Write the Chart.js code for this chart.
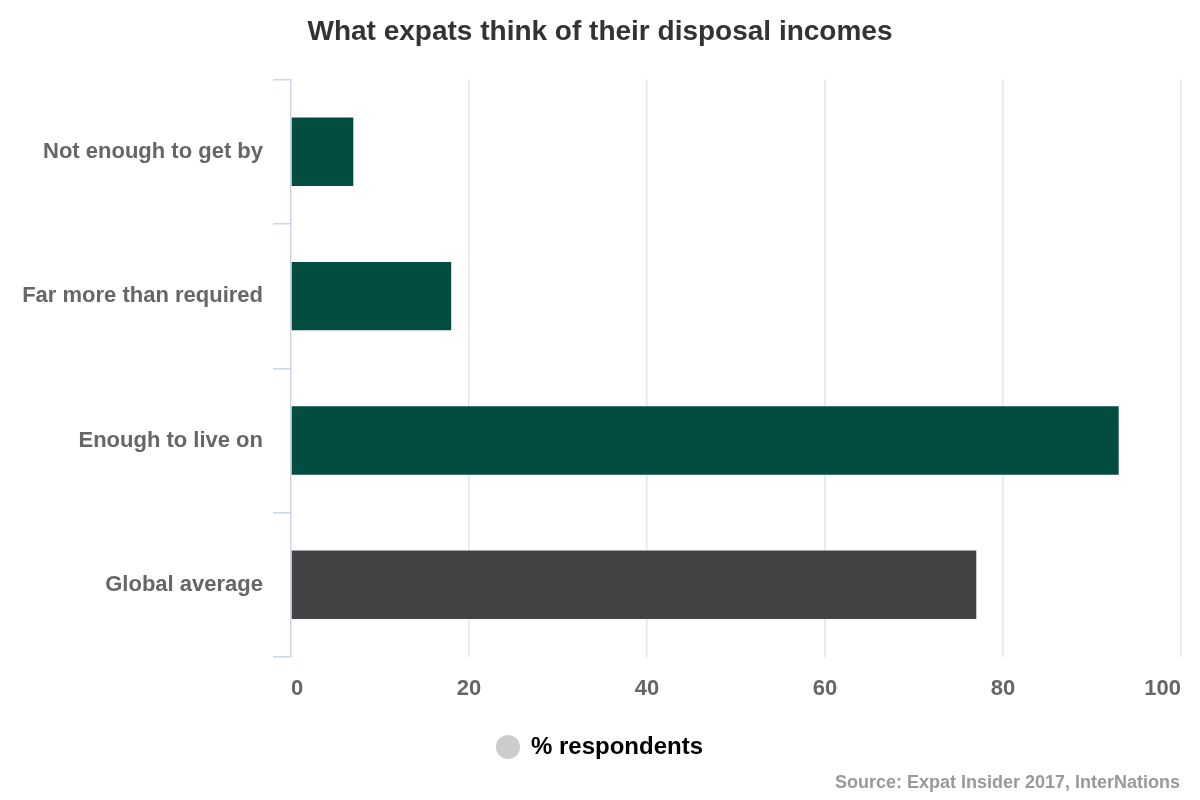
<!DOCTYPE html>
<html>
<head>
<meta charset="utf-8">
<script src="https://cdn.jsdelivr.net/npm/chart.js@4"></script>
<style>
    html, body { margin: 0; padding: 0; background: #fff; }
    #wrap { width: 1200px; height: 800px; }
</style>
</head>
<body>
<div id="wrap"><canvas id="chart" width="1200" height="800"></canvas></div>
<script>
const categories = ['Not enough to get by', 'Far more than required', 'Enough to live on', 'Global average'];
const respondents = [7, 18, 93, 77];
const barColors = ['#024d40', '#024d40', '#024d40', '#434343'];
const xTicks = [0, 20, 40, 60, 80, 100];
const titleText = 'What expats think of their disposal incomes';
const seriesName = '% respondents';
const sourceText = 'Source: Expat Insider 2017, InterNations';

const FONT = '"Liberation Sans", Arial, sans-serif';

// credit line in the bottom right corner
const credits = {
    id: 'credits',
    afterDraw(chart) {
        const c = chart.ctx;
        c.save();
        c.font = 'bold 18px ' + FONT;
        c.fillStyle = '#999999';
        c.textAlign = 'right';
        c.textBaseline = 'middle';
        c.fillText(sourceText, 1180, 783);
        c.restore();
    }
};

new Chart(document.getElementById('chart').getContext('2d'), {
    type: 'bar',
    data: {
        labels: categories,
        datasets: [{
            label: seriesName,
            data: respondents,
            backgroundColor: barColors,
            borderWidth: 0,
            barPercentage: 0.474,
            categoryPercentage: 1
        }]
    },
    options: {
        indexAxis: 'y',
        responsive: false,
        animation: false,
        layout: {padding: {left: 0, right: 0, top: 0, bottom: 31}},
        scales: {
            x: {
                min: 0,
                max: 100,
                afterBuildTicks: s => { s.ticks = xTicks.map(v => ({value: v})); },
                afterFit: s => {
                    s.height = 42;
                    s.paddingLeft = 0;
                    s.paddingRight = 19;
                },
                border: {display: false},
                grid: {
                    color: ctx => ctx.tick && ctx.tick.value === 0 ? 'rgba(0,0,0,0)' : '#e6e6e6',
                    lineWidth: 1.5,
                    drawTicks: false
                },
                ticks: {align: 'inner', color: '#666666', padding: 19, font: {family: FONT, size: 22, weight: 'bold'}}
            },
            y: {
                afterFit: s => { s.width = 291; },
                border: {display: true, color: '#ccd6eb', width: 1.5},
                grid: {display: true, drawOnChartArea: false, tickLength: 18, color: '#ccd6eb', lineWidth: 1.5, offset: true},
                ticks: {color: '#666666', padding: 10, font: {family: FONT, size: 22, weight: 'bold'}}
            }
        },
        plugins: {
            title: {
                display: true,
                text: titleText,
                color: '#333333',
                font: {family: FONT, size: 28, weight: 'bold'},
                padding: {top: 15, bottom: 31}
            },
            legend: {
                position: 'bottom',
                labels: {
                    usePointStyle: true,
                    pointStyle: 'circle',
                    boxWidth: 22,
                    boxHeight: 17,
                    padding: 36,
                    color: '#333333',
                    font: {family: FONT, size: 24, weight: 'bold'},
                    generateLabels: chart => [{
                        text: seriesName,
                        fillStyle: '#cccccc',
                        strokeStyle: '#cccccc',
                        lineWidth: 0,
                        pointStyle: 'circle',
                        datasetIndex: 0
                    }]
                }
            },
            tooltip: {enabled: false}
        }
    },
    plugins: [credits]
});
</script>
</body>
</html>
